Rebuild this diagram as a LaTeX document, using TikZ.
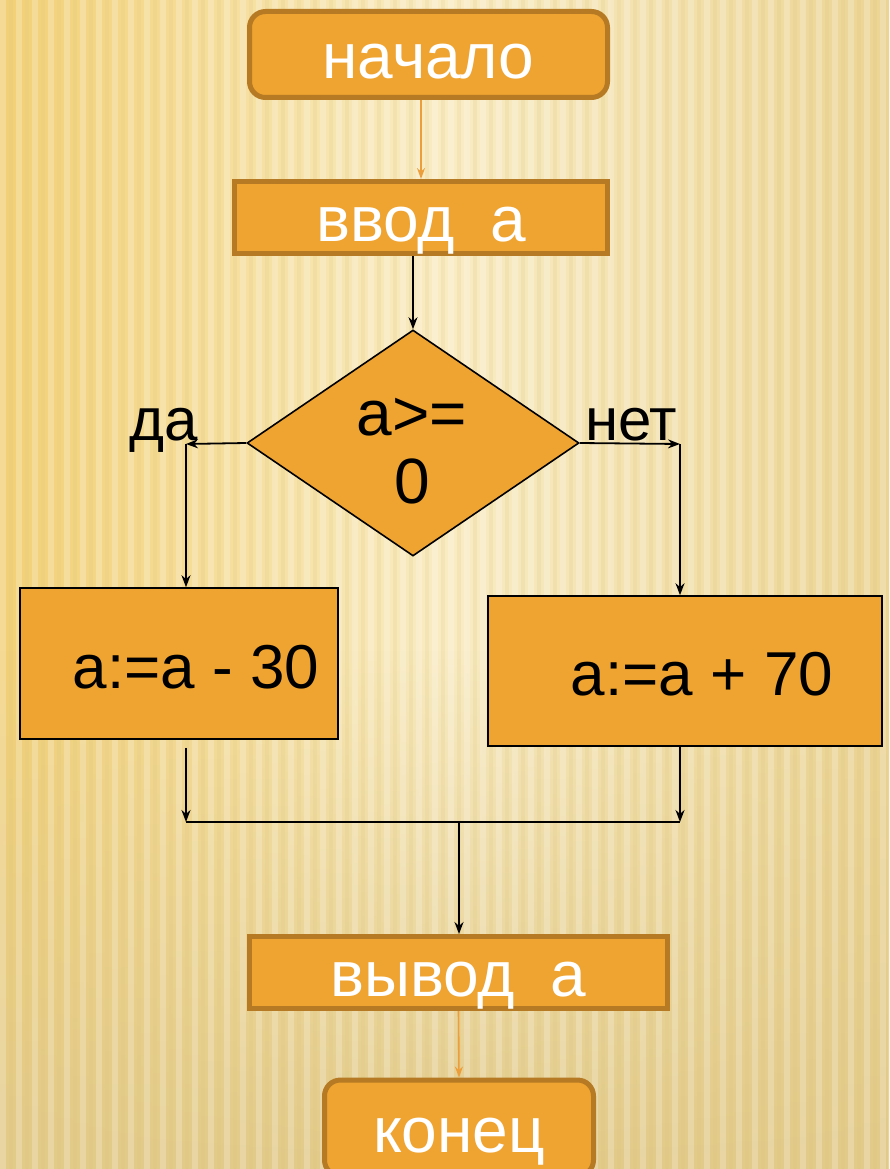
\documentclass[tikz,border=0pt]{standalone}
\usepackage{fontspec}
\setmainfont{Liberation Sans}
\usetikzlibrary{shapes.geometric,arrows.meta,fadings}
\definecolor{boxfill}{RGB}{239,163,48}
\definecolor{boxedge}{RGB}{181,122,35}
\definecolor{bgmid}{RGB}{249,236,196}
\definecolor{bgleft}{RGB}{242,208,118}
\definecolor{bgright}{RGB}{236,212,148}
\definecolor{bgbottom}{RGB}{226,202,138}
\definecolor{stripedark}{RGB}{222,196,126}
\definecolor{arroworange}{RGB}{236,158,58}
\begin{document}
\begin{tikzpicture}[x=1pt,y=-1pt,
  term/.style={draw=boxedge,fill=boxfill,line width=5pt,rounded corners=16pt,text=white,
    font=\fontsize{64}{70}\selectfont,inner sep=0pt,text height=48pt,text depth=0pt},
  iobox/.style={draw=boxedge,fill=boxfill,line width=5pt,text=white,
    font=\fontsize{64}{70}\selectfont,inner sep=0pt,text height=48pt,text depth=0pt},
  proc/.style={draw=black,fill=boxfill,line width=1.6pt,
    font=\fontsize{62}{68}\selectfont,inner sep=0pt,text height=49pt,text depth=0pt},
  decision/.style={diamond,draw=black,fill=boxfill,line width=1.6pt,inner sep=0pt},
  flow/.style={draw=black,line width=1.8pt,-{Stealth[length=12pt,width=9pt]}},
  plainline/.style={draw=black,line width=1.8pt},
  oflow/.style={draw=arroworange,line width=1.6pt,-{Stealth[length=11pt,width=8pt]}},
  lbl/.style={font=\fontsize{60}{66}\selectfont,anchor=base,inner sep=0pt}
]
\clip (0,0) rectangle (889,1169);
% background
\shade[left color=bgleft,right color=bgmid] (0,0) rectangle (450,1169);
\shade[left color=bgmid,right color=bgright] (450,0) rectangle (889,1169);
\fill[bgbottom,path fading=north] (0,650) rectangle (889,1169);
\foreach \x in {0,16,...,880} {\fill[white,opacity=0.22] (\x,0) rectangle ++(6,1169);}
\foreach \x in {9,25,...,889} {\fill[stripedark,opacity=0.18] (\x,0) rectangle ++(4,1169);}

% nodes
\node[term,minimum width=358pt,minimum height=86pt] (start) at (428.5,54.5) {начало};
\node[iobox,minimum width=373pt,minimum height=72pt] (input) at (421,217.5) {ввод\ \ а};
\node[decision,minimum width=332pt,minimum height=226pt] (dec) at (413,443) {};
\node[align=center,inner sep=0pt,font=\fontsize{64}{68}\selectfont] (dectext) at (412,451) {a>=\\0};
\node[proc,minimum width=318pt,minimum height=151pt] (lbox) at (179,663.5) {\hspace*{34pt}a:=a - 30};
\node[proc,minimum width=394pt,minimum height=150pt] (rbox) at (685,671) {\hspace*{34pt}a:=a + 70};
\node[iobox,minimum width=418pt,minimum height=72pt] (output) at (458.5,972.5) {вывод\ \ а};
\node[term,minimum width=269pt,minimum height=96pt] (end) at (459,1128) {конец};
\node[lbl] (yes) at (164,440) {да};
\node[lbl] (no) at (631,440) {нет};

\coordinate (ly) at (186,444);
\coordinate (ry) at (680,444);
\coordinate (lm) at (186,822);
\coordinate (rm) at (680,822);
\coordinate (mm) at (459,822);

% connectors
\draw[oflow] (input.north |- start.south) -- (input.north);
\draw[flow] (dec.north |- input.south) -- (dec.north);
\draw[flow] (dec.west) -- (ly);
\draw[flow] (ly) -- (ly |- lbox.north);
\draw[flow] (dec.east) -- (ry);
\draw[flow] (ry) -- (ry |- rbox.north);
\draw[flow] ([yshift=-8pt]lbox.south -| lm) -- (lm);
\draw[flow] (rbox.south -| rm) -- (rm);
\draw[plainline] (lm) -- (rm);
\draw[flow] (mm) -- (mm |- output.north);
\draw[oflow] (output.south) -- (end.north);
\end{tikzpicture}
\end{document}
